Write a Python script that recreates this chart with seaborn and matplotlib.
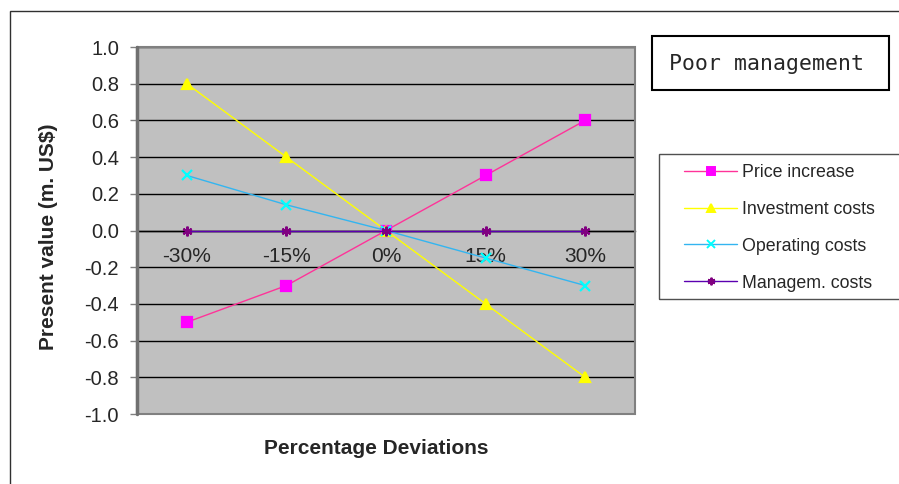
import matplotlib
matplotlib.use("Agg")
import matplotlib.pyplot as plt
from matplotlib.lines import Line2D
from matplotlib.patches import Rectangle
from matplotlib.ticker import FixedLocator, FixedFormatter
import seaborn as sns
import pandas as pd

# Sensitivity of present value to percentage deviations in each input
deviations = ["-30%", "-15%", "0%", "15%", "30%"]
price_increase = [-0.5, -0.3, 0.0, 0.3, 0.6]
investment_costs = [0.8, 0.4, 0.0, -0.4, -0.8]
operating_costs = [0.3, 0.14, 0.0, -0.15, -0.3]
management_costs = [0.0, 0.0, 0.0, 0.0, 0.0]
series_names = ["Price increase", "Investment costs", "Operating costs", "Managem. costs"]
y_ticks = [1.0, 0.8, 0.6, 0.4, 0.2, 0.0, -0.2, -0.4, -0.6, -0.8, -1.0]

sns.set_style("white")
plt.rcParams["font.family"] = ["Liberation Sans", "DejaVu Sans"]

W, H = 899, 484
fig = plt.figure(figsize=(W / 100, H / 100), dpi=100)
ax = fig.add_axes([137 / W, 1 - 414 / H, 498 / W, 367 / H])
ax.set_facecolor("#C0C0C0")

pos = list(range(len(deviations)))
df = pd.DataFrame({
    "pos": pos * 4,
    "value": price_increase + investment_costs + operating_costs + management_costs,
    "series": sum([[s] * len(deviations) for s in series_names], []),
})

styles = {
    "Price increase": dict(color="#FF3399", marker="s", mfc="#FF00FF", mec="#FF00FF", ms=6.5),
    "Investment costs": dict(color="#FFFF00", marker="^", mfc="#FFFF00", mec="#FFFF00", ms=7),
    "Operating costs": dict(color="#33B5F0", marker="x", mfc="#00FFFF", mec="#00FFFF", ms=6.5),
    "Managem. costs": dict(color="#5B00B0", marker=(6, 2, 0), mfc="#800080", mec="#800080", ms=7),
}

for name in series_names:
    st = styles[name]
    sub = df[df["series"] == name]
    sns.lineplot(data=sub, x="pos", y="value", ax=ax, color=st["color"], linewidth=1,
                 marker=st["marker"], markersize=st["ms"], markerfacecolor=st["mfc"],
                 markeredgecolor=st["mec"], markeredgewidth=1.6, zorder=3, legend=False)

ax.set_xlim(-0.5, len(deviations) - 0.5)
ax.set_ylim(-1.0, 1.0)

# Horizontal gridlines
ax.yaxis.set_major_locator(FixedLocator(y_ticks))
ax.yaxis.set_major_formatter(FixedFormatter([f"{v:.1f}" for v in y_ticks]))
for v in y_ticks:
    ax.axhline(v, color="black", lw=1, zorder=1)

# Category axis runs along the zero line
for side in ["top", "right", "left"]:
    ax.spines[side].set_visible(False)
ax.spines["bottom"].set_position(("data", 0))
ax.spines["bottom"].set_color("black")
ax.spines["bottom"].set_linewidth(1)
ax.xaxis.set_major_locator(FixedLocator(pos))
ax.xaxis.set_major_formatter(FixedFormatter(deviations))
ax.xaxis.set_minor_locator(FixedLocator([p + 0.5 for p in pos[:-1]]))
ax.tick_params(axis="x", which="major", length=0, pad=12, labelsize=15)
ax.tick_params(axis="x", which="minor", length=5, width=1, color="black", direction="out")
ax.tick_params(axis="y", length=5, width=1, color="#808080", direction="out", left=True,
               labelsize=14.5, pad=8)

# Plot area border
ax.add_patch(Rectangle((0, 0), 1, 1, transform=ax.transAxes, fill=False,
                       edgecolor="#808080", lw=1.5, zorder=4, clip_on=False))
ax.plot([0, 0], [0, 1], transform=ax.transAxes, color="#707070", lw=2.5, zorder=5,
        clip_on=False)

ax.set_xlabel("")
ax.set_ylabel("")
fig.text(376 / W, 1 - 448 / H, "Percentage Deviations", ha="center", va="center",
         fontsize=15, fontweight="bold")
fig.text(49 / W, 1 - 237 / H, "Present value (m. US$)", ha="center", va="center",
         rotation=90, fontsize=15, fontweight="bold")

# Outer chart border
fig.patches.append(Rectangle((9.5 / W, -0.2), 1.2, 1 - 10.5 / H + 0.2, transform=fig.transFigure,
                             fill=False, edgecolor="#303030", lw=1, figure=fig))

# Title box
fig.patches.append(Rectangle((652 / W, 1 - 90 / H), 237 / W, 54 / H, transform=fig.transFigure,
                             fill=False, edgecolor="black", lw=1.5, figure=fig))
fig.text(669 / W, 1 - 64 / H, "Poor management", ha="left", va="center",
         family="DejaVu Sans Mono", fontsize=15.5)

# Legend box and entries
fig.patches.append(Rectangle((659 / W, 1 - 299 / H), 260 / W, 145 / H, transform=fig.transFigure,
                             fill=False, edgecolor="#505050", lw=1, figure=fig))
handles = []
for name in series_names:
    st = styles[name]
    handles.append(Line2D([], [], color=st["color"], lw=1, marker=st["marker"], markersize=5.5,
                          markerfacecolor=st["mfc"], markeredgecolor=st["mec"], markeredgewidth=1.4))
fig.legend(handles, series_names, loc="upper left", bbox_to_anchor=(684 / W, 1 - 164 / H),
           frameon=False, fontsize=12.75, handlelength=3.0, handletextpad=0.3,
           labelspacing=1.12, borderaxespad=0, borderpad=0)

fig.savefig("out.png", dpi=100)
